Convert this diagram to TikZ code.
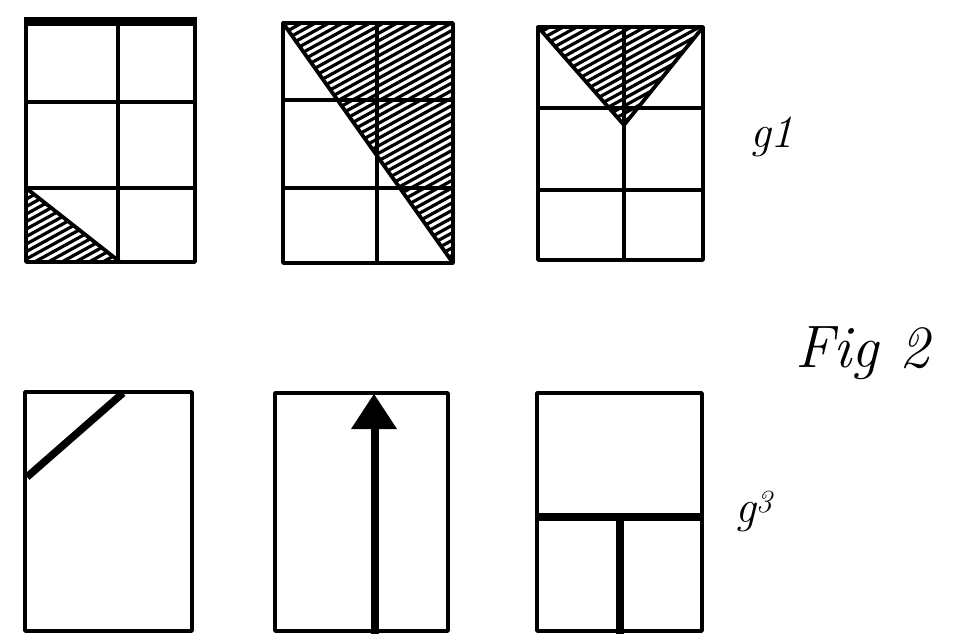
\documentclass[tikz,border=0pt]{standalone}
\usepackage{fontspec}
\begin{document}
\begin{tikzpicture}[x=1pt,y=-1pt,
  gridline/.style={line width=3.8pt,line cap=round,line join=round},
  thickline/.style={line width=7.5pt,line cap=butt},
  hatchline/.style={line width=3.2pt},
  label/.style={font=\itshape, inner sep=0pt}]
\useasboundingbox (0,0) rectangle (958,634);
\fill[white] (0,0) rectangle (958,634);

% ---------- hatched triangles ----------
% box 1
\begin{scope}
  \clip (26,188) -- (26,262) -- (120,262) -- cycle;
  \foreach \c in {180,187.5,...,320} \draw[hatchline] (20,\c) -- (130,{\c-0.55*110});
\end{scope}
\draw[gridline] (26,188) -- (120,262);
% box 2
\begin{scope}
  \clip (283,23) -- (453,23) -- (453,263) -- cycle;
  \foreach \c in {20,27.5,...,360} \draw[hatchline] (280,\c) -- (456,{\c-0.55*176});
\end{scope}
\draw[gridline] (283,23) -- (453,263);
% box 3
\begin{scope}
  \clip (538,27) -- (703,27) -- (624,125) -- cycle;
  \foreach \c in {20,27.5,...,230} \draw[hatchline] (535,\c) -- (706,{\c-0.55*171});
\end{scope}
\draw[gridline] (538,27) -- (624,125) -- (703,27);

% ---------- top row grids ----------
\draw[gridline] (26,23) rectangle (195,262);
\draw[gridline] (118,23) -- (118,262);
\draw[gridline] (26,102) -- (195,102);
\draw[gridline] (26,188) -- (195,188);
\draw[line width=9pt] (24,22) -- (197,22);

\draw[gridline] (283,23) rectangle (453,263);
\draw[gridline] (377,23) -- (377,263);
\draw[gridline] (283,100) -- (453,100);
\draw[gridline] (283,188) -- (453,188);

\draw[gridline] (538,27) rectangle (703,260);
\draw[gridline] (624,27) -- (624,260);
\draw[gridline] (538,108) -- (703,108);
\draw[gridline] (538,190) -- (703,190);

% ---------- bottom row ----------
\draw[gridline] (25,392) rectangle (192,631);
\draw[thickline] (27,477) -- (123,393);

\draw[gridline] (275,393) rectangle (448,631);
\draw[thickline] (375,634) -- (375,426);
\fill (351,429) -- (397,429) -- (374,394) -- cycle;

\draw[gridline] (537,393) rectangle (702,631);
\draw[thickline] (537,517) -- (702,517);
\draw[thickline] (620,514) -- (620,634);

% ---------- labels ----------
\node[label, font=\itshape\fontsize{46}{46}\selectfont, anchor=base west] (g1) at (750,147) {g1};
\node[label, font=\itshape\fontsize{60}{60}\selectfont, anchor=base west] (fig) at (795,367) {Fig 2};
\node[label, font=\itshape\fontsize{46}{46}\selectfont, anchor=base west] (g3) at (735,522) {g\textsuperscript{3}};
\end{tikzpicture}
\end{document}
